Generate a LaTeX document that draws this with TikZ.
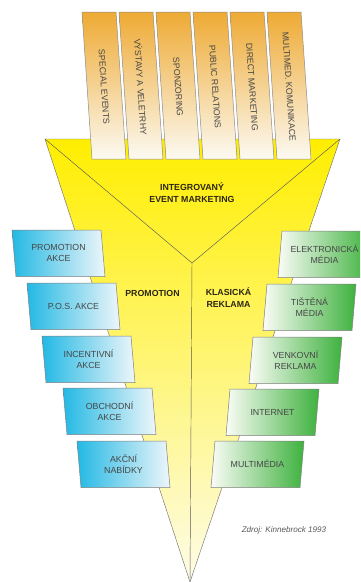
\documentclass[tikz,border=0pt]{standalone}
\usepackage{fontspec}
\setmainfont{Liberation Sans}
\definecolor{yel1}{RGB}{255,238,0}
\definecolor{yel2}{RGB}{253,244,100}
\definecolor{yel3}{RGB}{254,252,232}
\definecolor{ora1}{RGB}{238,170,52}
\definecolor{ora2}{RGB}{248,222,160}
\definecolor{ora3}{RGB}{252,250,242}
\definecolor{cya1}{RGB}{35,185,228}
\definecolor{cya2}{RGB}{238,246,250}
\definecolor{grn1}{RGB}{250,252,246}
\definecolor{grn2}{RGB}{62,178,62}
\definecolor{txt}{RGB}{70,70,70}
\definecolor{ttl}{RGB}{45,38,20}
\newcommand\leftbox[4]{%
  \shadedraw[lbox] (#1,#2) -- ++(89,0) -- ++(4,46.5) -- ++(-89,0) -- cycle;
  \node[boxtext] (#4) at (#1+46.5,#2+23.2) {#3};}
\newcommand\rightbox[4]{%
  \shadedraw[rbox] (#1,#2) -- ++(89,0) -- ++(-4,46.5) -- ++(-89,0) -- cycle;
  \node[boxtext] (#4) at (#1+42.5,#2+23.2) {#3};}
\begin{document}
\begin{tikzpicture}[x=1pt,y=-1pt,
  edge/.style={draw=black!65, line width=0.45pt},
  lbox/.style={left color=cya1, right color=cya2, draw=black!50, line width=0.5pt},
  rbox/.style={left color=grn1, right color=grn2, draw=black!50, line width=0.5pt},
  tabbox/.style={top color=ora1, middle color=ora2, bottom color=ora3, draw=black!45, line width=0.5pt},
  boxtext/.style={text=txt, font=\fontsize{8.8}{11}\selectfont, align=center, inner sep=0pt},
  tabtext/.style={text=txt, font=\fontsize{8.8}{11}\selectfont, inner sep=0pt, rotate=-86.1},
  title/.style={text=ttl, font=\bfseries\fontsize{8.8}{11.6}\selectfont, align=center, inner sep=0pt}]
\clip (0,0) rectangle (360,582);
\fill[white] (0,0) rectangle (360,582);
% funnel
\coordinate (tl) at (45,139);
\coordinate (tr) at (340,139);
\coordinate (c) at (192,263);
\coordinate (apex) at (190,582);
\shadedraw[top color=yel1, middle color=yel2, bottom color=yel3, draw=black!55, line width=0.45pt]
  (tl) -- (tr) -- (apex) -- cycle;
\draw[edge] (tl) -- (c) -- (tr);
\draw[edge] (c) -- (apex);
% tabs
\foreach \x/\t [count=\i] in {82/SPECIAL EVENTS, 119/VÝSTAVY A VELETRHY, 156/SPONZORING, 193/PUBLIC RELATIONS, 230/DIRECT MARKETING, 267/MULTIMED. KOMUNIKACE}{
  \shadedraw[tabbox] (\x,12) -- ++(34,0) -- ++(10,147) -- ++(-34,0) -- cycle;
  \node[tabtext] (tab\i) at (\x+22.1,87) {\t};
}
% left boxes
\leftbox{12}{230}{PROMOTION\\AKCE}{l1}
\leftbox{27}{283}{P.O.S. AKCE}{l2}
\leftbox{42}{336}{INCENTIVNÍ\\AKCE}{l3}
\leftbox{63}{388}{OBCHODNÍ\\AKCE}{l4}
\leftbox{77}{441}{AKČNÍ\\NABÍDKY}{l5}
% right boxes
\rightbox{282}{231}{ELEKTRONICKÁ\\MÉDIA}{r1}
\rightbox{267}{284}{TIŠTĚNÁ\\MÉDIA}{r2}
\rightbox{253}{337}{VENKOVNÍ\\REKLAMA}{r3}
\rightbox{230}{389}{INTERNET}{r4}
\rightbox{215}{441}{MULTIMÉDIA}{r5}
% titles
\node[title] (iem) at (192,192.5) {INTEGROVANÝ\\EVENT MARKETING};
\node[title] (prom) at (152.5,293) {PROMOTION};
\node[title] (klas) at (228.5,297.5) {KLASICKÁ\\REKLAMA};
\node[text=black!65, font=\itshape\fontsize{8.1}{10}\selectfont, inner sep=0pt] (src) at (284,530) {Zdroj: Kinnebrock 1993};
\end{tikzpicture}
\end{document}
